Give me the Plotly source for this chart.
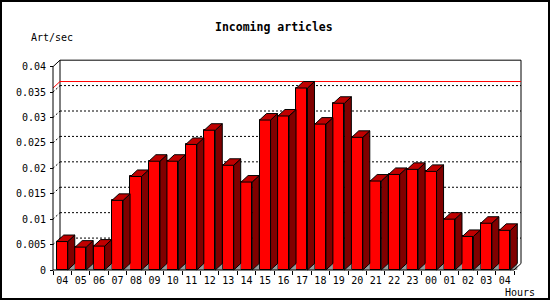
import plotly.graph_objects as go

# ---- data ----
hours = ["04", "05", "06", "07", "08", "09", "10", "11", "12", "13", "14", "15",
         "16", "17", "18", "19", "20", "21", "22", "23", "00", "01", "02", "03", "04"]
rate = [0.0056, 0.0045, 0.0047, 0.0137, 0.0184, 0.0214, 0.0214, 0.0247, 0.0275,
        0.0206, 0.0173, 0.0295, 0.0303, 0.0358, 0.0287, 0.0328, 0.0261, 0.0175,
        0.0188, 0.0198, 0.0194, 0.0100, 0.0066, 0.0092, 0.0078]
y_tick_vals = [0, 0.005, 0.01, 0.015, 0.02, 0.025, 0.03, 0.035, 0.04]
y_tick_text = ["0", "0.005", "0.01", "0.015", "0.02", "0.025", "0.03", "0.035", "0.04"]
title = "Incoming articles"
y_title = "Art/sec"
x_title = "Hours"

# ---- layout geometry ----
W, H = 550, 300
L, R, T, B = 40, 20, 50, 20
PW, PH = W - L - R, H - T - B
SLOT = 18.44          # px per category
PXU = 5083.0          # px per unit of y
FRONT_X_PX = 53       # px of front y-axis (x = -0.5)
FRONT_Y_PX = 270      # px of y = 0
x0 = -0.5 - (FRONT_X_PX - L) / SLOT
x1 = x0 + PW / SLOT
y0 = -((H - B) - FRONT_Y_PX) / PXU
y1 = y0 + PH / PXU

DX = 7.0 / SLOT       # depth offset in x units
DY = 6.5 / PXU        # depth offset in y units
BW = 0.6              # bar front width
YMAX = y_tick_vals[-1]
n = len(hours)
idx = list(range(n))
XL, XR = -0.5, n - 0.5


def px_x(px):
    return (px - L) / PW


def px_y(py):
    return ((H - B) - py) / PH


FONT = "DejaVu Sans Mono"
fig = go.Figure()

# floor shadows (gray triangles), side faces, top faces
gx, gy, sx, sy, tx, ty = [], [], [], [], [], []
for i, v in zip(idx, rate):
    xr = i + BW / 2
    xl = i - BW / 2
    gx += [xr, xr + DX, xr + DX, xr, None]
    gy += [0, DY, 0, 0, None]
    sx += [xr, xr + DX, xr + DX, xr, xr, None]
    sy += [0, DY, v + DY, v, 0, None]
    tx += [xl, xl + DX, xr + DX, xr, xl, None]
    ty += [v, v + DY, v + DY, v, v, None]

fig.add_trace(go.Bar(x=idx, y=rate, width=BW,
                     marker=dict(color="#ff0000", line=dict(color="black", width=1)),
                     hoverinfo="skip"))
fig.add_trace(go.Scatter(x=gx, y=gy, mode="lines", fill="toself", fillcolor="#9a9a9a",
                         line=dict(width=0, color="#9a9a9a"), hoverinfo="skip"))
fig.add_trace(go.Scatter(x=sx, y=sy, mode="lines", fill="toself", fillcolor="#800000",
                         line=dict(width=1, color="black"), hoverinfo="skip"))
fig.add_trace(go.Scatter(x=tx, y=ty, mode="lines", fill="toself", fillcolor="#c00000",
                         line=dict(width=1, color="black"), hoverinfo="skip"))

shapes = []
# back wall grid lines + side-wall diagonals
for v in y_tick_vals[1:-1]:
    shapes.append(dict(type="line", xref="x", yref="y", layer="below",
                       x0=XL + DX, x1=XR + DX, y0=v + DY, y1=v + DY,
                       line=dict(color="black", width=1, dash="2px,2px")))
    shapes.append(dict(type="line", xref="x", yref="y", layer="below",
                       x0=XL, x1=XL + DX, y0=v, y1=v + DY,
                       line=dict(color="black", width=1, dash="2px,2px")))
# back wall frame
shapes.append(dict(type="line", xref="x", yref="y", layer="below",
                   x0=XL + DX, x1=XR + DX, y0=YMAX + DY, y1=YMAX + DY,
                   line=dict(color="black", width=1)))
shapes.append(dict(type="line", xref="x", yref="y", layer="below",
                   x0=XL + DX, x1=XL + DX, y0=DY, y1=YMAX + DY,
                   line=dict(color="black", width=1)))
shapes.append(dict(type="line", xref="x", yref="y", layer="below",
                   x0=XR + DX, x1=XR + DX, y0=DY, y1=YMAX + DY,
                   line=dict(color="black", width=1)))
# max line
vmax = max(rate)
shapes.append(dict(type="line", xref="x", yref="y", layer="below",
                   x0=XL + DX, x1=XR + DX, y0=vmax + DY, y1=vmax + DY,
                   line=dict(color="#ff0000", width=1)))
shapes.append(dict(type="line", xref="x", yref="y", layer="below",
                   x0=XL, x1=XL + DX, y0=vmax, y1=vmax + DY,
                   line=dict(color="#ff0000", width=1)))
# front axes
shapes.append(dict(type="line", xref="x", yref="y", layer="above",
                   x0=XL, x1=XL, y0=0, y1=YMAX, line=dict(color="black", width=1)))
shapes.append(dict(type="line", xref="x", yref="y", layer="above",
                   x0=XL, x1=XL + DX, y0=YMAX, y1=YMAX + DY, line=dict(color="black", width=1)))
shapes.append(dict(type="line", xref="x", yref="y", layer="above",
                   x0=XL, x1=XR, y0=0, y1=0, line=dict(color="black", width=1)))
shapes.append(dict(type="line", xref="x", yref="y", layer="above",
                   x0=XR, x1=XR + DX, y0=0, y1=DY, line=dict(color="black", width=1)))
# outer frame
shapes.append(dict(type="rect", xref="paper", yref="paper", layer="above",
                   x0=px_x(1), x1=px_x(549), y0=px_y(299), y1=px_y(1),
                   line=dict(color="black", width=2)))

annotations = [
    dict(text="<b>" + title + "</b>", xref="paper", yref="paper", x=px_x(274), y=px_y(27),
         xanchor="center", yanchor="middle", showarrow=False,
         font=dict(family=FONT, size=11.5, color="black")),
    dict(text=y_title, xref="paper", yref="paper", x=px_x(29), y=px_y(37),
         xanchor="left", yanchor="middle", showarrow=False,
         font=dict(family=FONT, size=10, color="black")),
    dict(text=x_title, xref="paper", yref="paper", x=px_x(503), y=px_y(292),
         xanchor="left", yanchor="middle", showarrow=False,
         font=dict(family=FONT, size=10, color="black")),
]

fig.update_layout(
    width=W, height=H, margin=dict(l=L, r=R, t=T, b=B, pad=0),
    paper_bgcolor="white", plot_bgcolor="white", showlegend=False,
    shapes=shapes, annotations=annotations, bargap=0,
    xaxis=dict(range=[x0, x1], anchor="free", position=px_y(FRONT_Y_PX),
               tickmode="array", tickvals=idx, ticktext=hours, ticks="",
               ticklabelstandoff=3,
               showgrid=False, zeroline=False, showline=False,
               tickfont=dict(family=FONT, size=10, color="black"),
               minor=dict(ticks="outside", ticklen=4, tickcolor="black", tickwidth=1,
                          tickmode="array", tickvals=[i - 0.5 for i in range(n + 1)],
                          showgrid=False)),
    yaxis=dict(range=[y0, y1], anchor="free", position=px_x(FRONT_X_PX),
               tickmode="array", tickvals=y_tick_vals, ticktext=y_tick_text,
               ticks="outside", ticklen=3, tickcolor="black", ticklabelstandoff=2,
               showgrid=False, zeroline=False, showline=False,
               tickfont=dict(family=FONT, size=10, color="black")),
)

fig.write_html("out.html")
